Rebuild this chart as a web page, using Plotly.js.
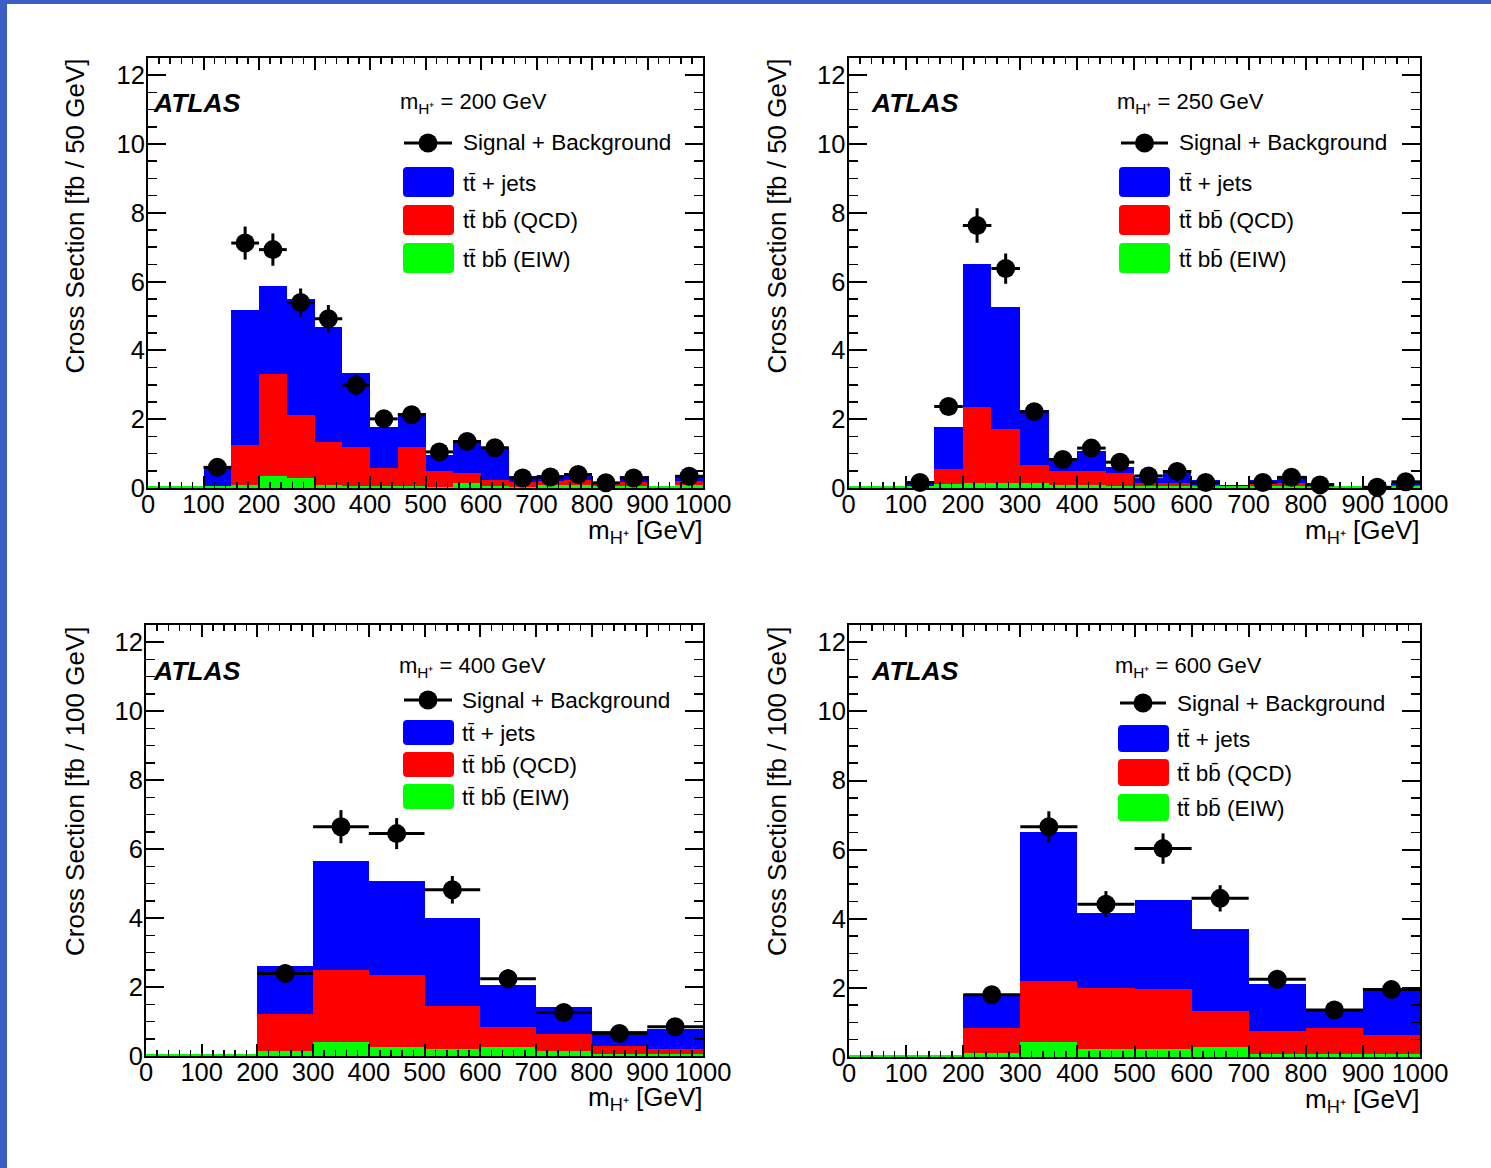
<!DOCTYPE html>
<html>
<head>
<meta charset="utf-8">
<script src="https://cdn.plot.ly/plotly-3.0.1.min.js"></script>
<style>
  html, body { margin: 0; padding: 0; background: #ffffff; }
  #chart { width: 1491px; height: 1168px; }
</style>
</head>
<body>
<div id="chart"></div>
<script>
// ---- Bin centres (GeV) ----
const massBins50  = [25, 75, 125, 175, 225, 275, 325, 375, 425, 475, 525, 575, 625, 675, 725, 775, 825, 875, 925, 975];
const massBins100 = [50, 150, 250, 350, 450, 550, 650, 750, 850, 950];
const tickValsX = [0, 100, 200, 300, 400, 500, 600, 700, 800, 900, 1000];
const tickValsY = [0, 2, 4, 6, 8, 10, 12];

// ---- m(H+) = 200 GeV, 50 GeV bins ----
const ttJets200 = [0, 0, 0.62, 5.18, 5.88, 5.48, 4.67, 3.35, 1.77, 2.17, 0.95, 1.40, 1.19, 0.34, 0.38, 0.45, 0.18, 0.35, 0, 0.38];
const ttbbQcd200 = [0, 0, 0, 1.24, 3.31, 2.12, 1.33, 1.19, 0.59, 1.19, 0.48, 0.45, 0.24, 0.18, 0.20, 0.23, 0.13, 0.18, 0, 0.20];
const ttbbElw200 = [0.06, 0.06, 0.05, 0.08, 0.34, 0.30, 0.10, 0.07, 0.07, 0.07, 0.04, 0.14, 0.06, 0.04, 0.08, 0.09, 0.05, 0.07, 0.06, 0.09];
const sigBkg200 = [null, null, 0.60, 7.12, 6.93, 5.39, 4.92, 2.99, 2.01, 2.13, 1.05, 1.35, 1.17, 0.29, 0.32, 0.39, 0.15, 0.29, null, 0.34];
const sigErr200 = [0, 0, 0.15, 0.48, 0.47, 0.41, 0.40, 0.30, 0.24, 0.25, 0.18, 0.21, 0.20, 0.10, 0.10, 0.11, 0.07, 0.10, 0, 0.11];

// ---- m(H+) = 250 GeV, 50 GeV bins ----
const ttJets250 = [0, 0, 0.20, 1.76, 6.51, 5.25, 2.28, 0.78, 1.09, 0.62, 0.28, 0.52, 0.23, 0.08, 0.23, 0.35, 0.14, 0.07, 0.06, 0.14];
const ttbbQcd250 = [0, 0, 0.06, 0.55, 2.35, 1.71, 0.68, 0.50, 0.50, 0.43, 0.14, 0.14, 0.09, 0.06, 0.12, 0.16, 0.08, 0.05, 0.05, 0.09];
const ttbbElw250 = [0.06, 0.06, 0.05, 0.11, 0.15, 0.15, 0.14, 0.09, 0.09, 0.06, 0.05, 0.05, 0.05, 0.05, 0.05, 0.06, 0.05, 0.05, 0.05, 0.06];
const sigBkg250 = [null, null, 0.16, 2.37, 7.63, 6.38, 2.22, 0.83, 1.16, 0.75, 0.35, 0.48, 0.16, null, 0.16, 0.31, 0.09, null, 0.02, 0.18];
const sigErr250 = [0, 0, 0.10, 0.25, 0.50, 0.44, 0.24, 0.15, 0.18, 0.14, 0.10, 0.12, 0.07, 0, 0.07, 0.10, 0.05, 0, 0.03, 0.07];

// ---- m(H+) = 400 GeV, 100 GeV bins ----
const ttJets400 = [0, 0, 2.61, 5.66, 5.09, 4.00, 2.05, 1.41, 0.72, 0.79];
const ttbbQcd400 = [0, 0, 1.23, 2.50, 2.35, 1.45, 0.85, 0.63, 0.28, 0.20];
const ttbbElw400 = [0.06, 0.06, 0.14, 0.41, 0.25, 0.21, 0.25, 0.14, 0.07, 0.07];
const sigBkg400 = [null, null, 2.39, 6.65, 6.45, 4.82, 2.24, 1.26, 0.65, 0.85];
const sigErr400 = [0, 0, 0.27, 0.48, 0.45, 0.40, 0.28, 0.20, 0.15, 0.17];

// ---- m(H+) = 600 GeV, 100 GeV bins ----
const ttJets600 = [0, 0, 1.80, 6.52, 4.18, 4.53, 3.69, 2.12, 1.38, 1.98];
const ttbbQcd600 = [0, 0, 0.84, 2.20, 2.00, 1.96, 1.33, 0.74, 0.84, 0.64];
const ttbbElw600 = [0.06, 0.06, 0.11, 0.44, 0.22, 0.22, 0.28, 0.09, 0.09, 0.09];
const sigBkg600 = [null, null, 1.80, 6.66, 4.42, 6.03, 4.59, 2.25, 1.36, 1.95];
const sigErr600 = [0, 0, 0.25, 0.45, 0.38, 0.44, 0.38, 0.27, 0.20, 0.25];

// ---- Legend labels ----
const seriesNames = ['Signal + Background', 'tt\u0304 + jets', 'tt\u0304 bb\u0304 (QCD)', 'tt\u0304 bb\u0304 (EIW)'];
const massLabels = ['200', '250', '400', '600'];

// ---- Page geometry (pixels) ----
const W = 1491, H = 1168;
const FONT = 'Liberation Sans, Arial, Helvetica, sans-serif';
const COLORS = { jets: '#0000ff', qcd: '#ff0000', elw: '#00ff00', border: '#3a5dc6' };

const panels = [
  { centers: massBins50, binW: 50, jets: ttJets200, qcd: ttbbQcd200, elw: ttbbElw200, sig: sigBkg200, err: sigErr200,
    mass: massLabels[0], unit: '50 GeV',
    frame: { l: 148, r: 703, t: 58, b: 488 }, yTitleX: 75, xTitleY: 531,
    leg: { atlasX: 151, atlasY: 103, headX: 398, headY: 103, sigY: 143, lineX0: 404, lineX1: 452, textX: 461,
           boxX0: 403, boxX1: 454, boxes: [[167, 197], [205, 235], [243, 273]] } },
  { centers: massBins50, binW: 50, jets: ttJets250, qcd: ttbbQcd250, elw: ttbbElw250, sig: sigBkg250, err: sigErr250,
    mass: massLabels[1], unit: '50 GeV',
    frame: { l: 848.5, r: 1420, t: 58, b: 488 }, yTitleX: 777, xTitleY: 531,
    leg: { atlasX: 869, atlasY: 103, headX: 1115, headY: 103, sigY: 143, lineX0: 1121, lineX1: 1168, textX: 1177,
           boxX0: 1119, boxX1: 1170, boxes: [[167, 197], [205, 235], [243, 273]] } },
  { centers: massBins100, binW: 100, jets: ttJets400, qcd: ttbbQcd400, elw: ttbbElw400, sig: sigBkg400, err: sigErr400,
    mass: massLabels[2], unit: '100 GeV',
    frame: { l: 146, r: 703, t: 625, b: 1056 }, yTitleX: 75, xTitleY: 1098,
    leg: { atlasX: 151, atlasY: 671, headX: 397, headY: 667, sigY: 700, lineX0: 404, lineX1: 452, textX: 460,
           boxX0: 403, boxX1: 454, boxes: [[720, 745], [752, 777], [784, 809]] } },
  { centers: massBins100, binW: 100, jets: ttJets600, qcd: ttbbQcd600, elw: ttbbElw600, sig: sigBkg600, err: sigErr600,
    mass: massLabels[3], unit: '100 GeV',
    frame: { l: 849, r: 1420, t: 625, b: 1057 }, yTitleX: 777, xTitleY: 1100,
    leg: { atlasX: 869, atlasY: 671, headX: 1113, headY: 667, sigY: 703, lineX0: 1120, lineX1: 1166, textX: 1175,
           boxX0: 1118, boxX1: 1169, boxes: [[725, 752], [759, 786], [794, 821]] } }
];

const px = x => x / W;
const py = y => 1 - y / H;

// Rounded rectangle path in paper coordinates
function roundRect(x0, y0, x1, y1, r) {
  const rx = r / W, ry = r / H;
  const X0 = px(x0), X1 = px(x1), Y0 = py(y1), Y1 = py(y0); // Y0 bottom, Y1 top
  return `M${X0 + rx},${Y0} L${X1 - rx},${Y0} Q${X1},${Y0} ${X1},${Y0 + ry} L${X1},${Y1 - ry} Q${X1},${Y1} ${X1 - rx},${Y1} ` +
         `L${X0 + rx},${Y1} Q${X0},${Y1} ${X0},${Y1 - ry} L${X0},${Y0 + ry} Q${X0},${Y0} ${X0 + rx},${Y0} Z`;
}

const traces = [];
const layout = {
  width: W, height: H,
  margin: { l: 0, r: 0, t: 0, b: 0 },
  paper_bgcolor: '#ffffff', plot_bgcolor: '#ffffff',
  showlegend: false,
  barmode: 'overlay', bargap: 0,
  font: { family: FONT, color: '#000000' },
  annotations: [], shapes: []
};

panels.forEach((p, i) => {
  const n = i + 1;
  const xa = 'x' + (n === 1 ? '' : n), ya = 'y' + (n === 1 ? '' : n);
  const xKey = 'xaxis' + (n === 1 ? '' : n), yKey = 'yaxis' + (n === 1 ? '' : n);

  layout[xKey] = {
    domain: [px(p.frame.l), px(p.frame.r)], anchor: ya,
    range: [0, 1000], tickmode: 'array', tickvals: tickValsX, ticktext: tickValsX.map(String),
    ticks: 'inside', ticklen: 12, tickwidth: 2, tickcolor: '#000', ticklabelstandoff: -8,
    minor: { ticks: 'inside', ticklen: 6, tickwidth: 1.5, tickcolor: '#000', dtick: 20, tick0: 0, showgrid: false },
    showline: true, linecolor: '#000', linewidth: 2, mirror: 'ticks',
    showgrid: false, zeroline: false, fixedrange: true,
    tickfont: { family: FONT, size: 25.5, color: '#000' }
  };
  layout[yKey] = {
    domain: [py(p.frame.b), py(p.frame.t)], anchor: xa,
    range: [0, 12.5], tickmode: 'array', tickvals: tickValsY, ticktext: tickValsY.map(String),
    ticks: 'inside', ticklen: 18, tickwidth: 2, tickcolor: '#000', ticklabelstandoff: -4,
    minor: { ticks: 'inside', ticklen: 9, tickwidth: 1.5, tickcolor: '#000', dtick: 0.5, tick0: 0, showgrid: false },
    showline: true, linecolor: '#000', linewidth: 2, mirror: 'ticks',
    showgrid: false, zeroline: false, fixedrange: true,
    tickfont: { family: FONT, size: 25.5, color: '#000' }
  };

  const half = p.centers.map(() => p.binW / 2);
  const common = { type: 'bar', x: p.centers, width: p.binW, xaxis: xa, yaxis: ya, hoverinfo: 'skip' };
  traces.push(Object.assign({}, common, { y: p.jets, name: seriesNames[1], marker: { color: COLORS.jets, line: { width: 0 } } }));
  traces.push(Object.assign({}, common, { y: p.qcd, name: seriesNames[2], marker: { color: COLORS.qcd, line: { width: 0 } } }));
  traces.push(Object.assign({}, common, { y: p.elw, name: seriesNames[3], marker: { color: COLORS.elw, line: { width: 0 } } }));
  traces.push({
    type: 'scatter', mode: 'markers', x: p.centers, y: p.sig, xaxis: xa, yaxis: ya, name: seriesNames[0],
    marker: { color: '#000', size: 19 }, cliponaxis: false,
    error_x: { type: 'data', array: half, symmetric: true, color: '#000', thickness: 3, width: 0 },
    error_y: { type: 'data', array: p.err, symmetric: true, color: '#000', thickness: 3, width: 0 }
  });

  // axis titles
  layout.annotations.push({
    xref: 'paper', yref: 'paper', x: px(p.yTitleX), y: py(p.frame.t - 1), xanchor: 'center', yanchor: 'top',
    text: 'Cross Section [fb / ' + p.unit + ']', textangle: -90, showarrow: false,
    font: { family: FONT, size: 26, color: '#000' }
  });
  layout.annotations.push({
    xref: 'paper', yref: 'paper', x: px(p.frame.r + 2), y: py(p.xTitleY), xanchor: 'right', yanchor: 'middle',
    text: 'm<sub>H\u207A</sub> [GeV]', showarrow: false,
    font: { family: FONT, size: 26, color: '#000' }
  });

  // ATLAS label
  const L = p.leg;
  layout.annotations.push({
    xref: 'paper', yref: 'paper', x: px(L.atlasX), y: py(L.atlasY), xanchor: 'left', yanchor: 'middle',
    text: '<b><i>ATLAS</i></b>', showarrow: false, font: { family: FONT, size: 26.5, color: '#000' }
  });
  // legend header
  layout.annotations.push({
    xref: 'paper', yref: 'paper', x: px(L.headX), y: py(L.headY), xanchor: 'left', yanchor: 'middle',
    text: 'm<sub>H\u207A</sub> = ' + p.mass + ' GeV', showarrow: false, font: { family: FONT, size: 22, color: '#000' }
  });
  // Signal + Background entry
  layout.shapes.push({
    type: 'line', xref: 'paper', yref: 'paper', x0: px(L.lineX0), x1: px(L.lineX1), y0: py(L.sigY), y1: py(L.sigY),
    line: { color: '#000', width: 3 }
  });
  const mx = (L.lineX0 + L.lineX1) / 2, r = 9.5;
  layout.shapes.push({
    type: 'circle', xref: 'paper', yref: 'paper', x0: px(mx - r), x1: px(mx + r), y0: py(L.sigY + r), y1: py(L.sigY - r),
    fillcolor: '#000', line: { color: '#000', width: 0 }
  });
  layout.annotations.push({
    xref: 'paper', yref: 'paper', x: px(L.textX), y: py(L.sigY), xanchor: 'left', yanchor: 'middle',
    text: seriesNames[0], showarrow: false, font: { family: FONT, size: 22.5, color: '#000' }
  });
  // filled entries
  [COLORS.jets, COLORS.qcd, COLORS.elw].forEach((c, k) => {
    const [b0, b1] = L.boxes[k];
    layout.shapes.push({
      type: 'path', xref: 'paper', yref: 'paper', path: roundRect(L.boxX0, b0, L.boxX1, b1, 4),
      fillcolor: c, line: { width: 0 }
    });
    layout.annotations.push({
      xref: 'paper', yref: 'paper', x: px(L.textX), y: py((b0 + b1) / 2 + 1), xanchor: 'left', yanchor: 'middle',
      text: seriesNames[k + 1], showarrow: false, font: { family: FONT, size: 22.5, color: '#000' }
    });
  });
});

// page frame strips (left and top)
layout.shapes.push({ type: 'rect', xref: 'paper', yref: 'paper', x0: 0, x1: px(7), y0: 0, y1: 1, fillcolor: COLORS.border, line: { width: 0 }, layer: 'above' });
layout.shapes.push({ type: 'rect', xref: 'paper', yref: 'paper', x0: 0, x1: 1, y0: py(4), y1: 1, fillcolor: COLORS.border, line: { width: 0 }, layer: 'above' });

Plotly.newPlot('chart', traces, layout, { staticPlot: true, displayModeBar: false });
</script>
</body>
</html>
